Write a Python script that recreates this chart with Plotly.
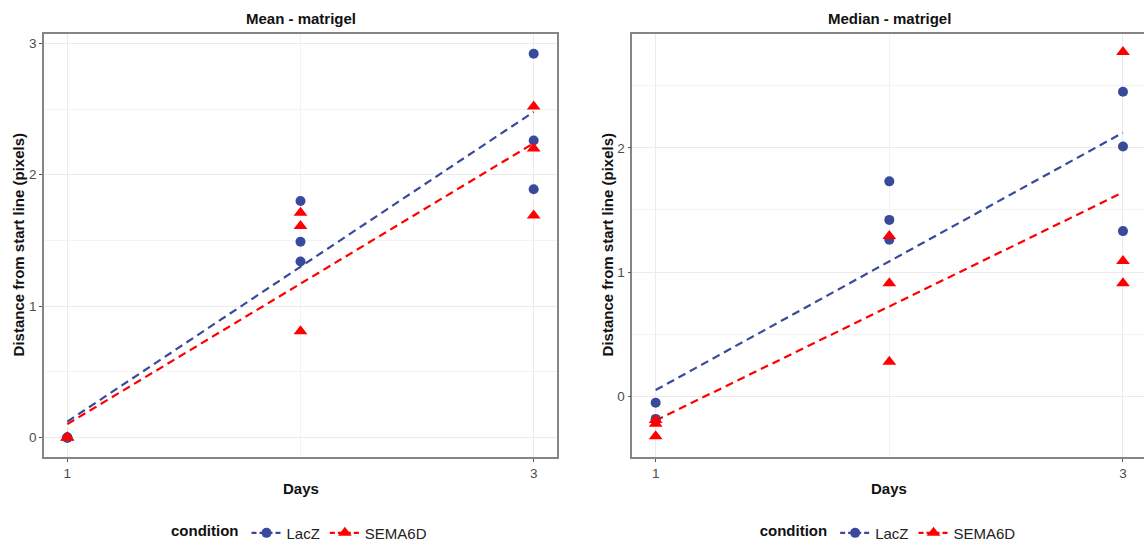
import numpy as np
import plotly.graph_objects as go

# ---------------- data ----------------
days = [1, 1, 1, 2, 2, 2, 3, 3, 3]
mean_lacz = [0.0, 0.0, 0.0, 1.80, 1.49, 1.34, 2.92, 2.26, 1.89]
mean_sema = [0.0, 0.0, 0.0, 1.71, 1.61, 0.81, 2.52, 2.20, 1.69]
median_lacz = [-0.05, -0.18, -0.19, 1.73, 1.42, 1.26, 2.45, 2.01, 1.33]
median_sema = [-0.19, -0.22, -0.32, 1.29, 0.91, 0.28, 2.77, 1.09, 0.91]
conditions = ["LacZ", "SEMA6D"]
panel_titles = ["Mean - matrigel", "Median - matrigel"]
x_ticks = [1, 3]
x_minor = [2]

colors = {"LacZ": "#3a4a9b", "SEMA6D": "#ff0000"}
symbols = {"LacZ": "circle", "SEMA6D": "triangle-up"}
msize = {"LacZ": 10, "SEMA6D": 12}

FONT = "Liberation Sans, Arial, sans-serif"
fig = go.Figure()

panels = [
    (mean_lacz, mean_sema, "x", "y", "legend"),
    (median_lacz, median_sema, "x2", "y2", "legend2"),
]
for lacz, sema, xa, ya, lg in panels:
    # fitted linear trends (dashed)
    for cond, vals in zip(conditions, [lacz, sema]):
        slope, icpt = np.polyfit(days, vals, 1)
        xs = np.array([1.0, 3.0])
        fig.add_trace(go.Scatter(
            x=xs, y=slope * xs + icpt, mode="lines",
            line=dict(color=colors[cond], width=2.2, dash="8px,5px"),
            xaxis=xa, yaxis=ya, showlegend=False, hoverinfo="skip"))
    # points
    for cond, vals in zip(conditions, [lacz, sema]):
        fig.add_trace(go.Scatter(
            x=days, y=vals, mode="markers", name=cond,
            marker=dict(color=colors[cond], symbol=symbols[cond], size=msize[cond]),
            xaxis=xa, yaxis=ya, showlegend=False))
    # legend entries
    for cond in conditions:
        fig.add_trace(go.Scatter(
            x=[None], y=[None], mode="lines+markers", name=cond,
            line=dict(color=colors[cond], width=2.2, dash="5px,3px"),
            marker=dict(color=colors[cond], symbol=symbols[cond], size=msize[cond]),
            xaxis=xa, yaxis=ya, legend=lg, showlegend=True))

W, H = 1144, 550
dom_y = [1 - 461 / H, 1 - 34.3 / H]
dom_x1 = [44 / W, 557 / W]
dom_x2 = [632.3 / W, 1.0]

grid_major = "#ebebeb"
grid_minor = "#f3f3f3"
border = "#858585"

def xaxis(dom, anchor, rng):
    return dict(domain=dom, anchor=anchor, range=rng, tickvals=x_ticks,
                ticktext=[str(v) for v in x_ticks],
                showgrid=True, gridcolor=grid_major, gridwidth=1,
                minor=dict(tickvals=x_minor, showgrid=True, gridcolor=grid_minor, gridwidth=1, ticks=""),
                zeroline=False, showline=True, linecolor=border, linewidth=1.5, mirror=True,
                ticks="outside", ticklen=3, tickcolor="#555555", tickwidth=1,
                tickfont=dict(family=FONT, size=13.5, color="#4d4d4d"))

def yaxis(dom, anchor, rng, ticks, minor, mirror=True):
    return dict(domain=dom, anchor=anchor, range=rng, tickvals=ticks,
                ticktext=[str(v) for v in ticks],
                showgrid=True, gridcolor=grid_major, gridwidth=1,
                minor=dict(tickvals=minor, showgrid=True, gridcolor=grid_minor, gridwidth=1, ticks=""),
                zeroline=False, showline=True, linecolor=border, linewidth=1.5, mirror=mirror,
                ticks="outside", ticklen=3, tickcolor="#555555", tickwidth=1,
                tickfont=dict(family=FONT, size=13.5, color="#4d4d4d"))

legend_common = dict(orientation="h", yanchor="middle", xanchor="center",
                     font=dict(family=FONT, size=15, color="#222222"),
                     title=dict(text="<b>condition</b>", side="left",
                                font=dict(family=FONT, size=15, color="#111111")),
                     bgcolor="rgba(0,0,0,0)", itemwidth=30, tracegroupgap=0)

fig.update_layout(
    width=W, height=H,
    margin=dict(l=0, r=0, t=0, b=0),
    paper_bgcolor="white", plot_bgcolor="white",
    font=dict(family=FONT),
    xaxis=xaxis(dom_x1, "y", [0.9, 3.1]),
    yaxis=yaxis(dom_y, "x", [-0.146, 3.071], [0, 1, 2, 3], [0.5, 1.5, 2.5]),
    xaxis2=xaxis(dom_x2, "y2", [0.9, 3.09]),
    yaxis2=yaxis(dom_y, "x2", [-0.485, 2.915], [0, 1, 2], [0.5, 1.5, 2.5], mirror=False),
    legend=dict(x=(dom_x1[0] + dom_x1[1]) / 2, y=1 - 538 / H, **legend_common),
    legend2=dict(x=(dom_x2[0] + 1146 / W) / 2, y=1 - 538 / H, **legend_common),
    showlegend=True,
)

annos = []
for title, cx in [(panel_titles[0], 300.5), (panel_titles[1], 889)]:
    annos.append(dict(text=f"<b>{title}</b>", x=cx / W, y=1 - 19 / H, xref="paper", yref="paper",
                      showarrow=False, xanchor="center", yanchor="middle",
                      font=dict(family=FONT, size=15, color="#111111")))
for cx in [300.5, 889]:
    annos.append(dict(text="<b>Days</b>", x=cx / W, y=1 - 493 / H, xref="paper", yref="paper",
                      showarrow=False, xanchor="center", yanchor="middle",
                      font=dict(family=FONT, size=15, color="#111111")))
for cx in [18, 607]:
    annos.append(dict(text="<b>Distance from start line (pixels)</b>", x=cx / W,
                      y=(dom_y[0] + dom_y[1]) / 2, xref="paper", yref="paper",
                      showarrow=False, xanchor="center", yanchor="middle", textangle=-90,
                      font=dict(family=FONT, size=15, color="#111111")))
fig.update_layout(annotations=annos)

fig.write_html("out.html", config={"displayModeBar": False},
               post_script="document.body.style.margin='0';document.body.style.overflow='hidden';")
